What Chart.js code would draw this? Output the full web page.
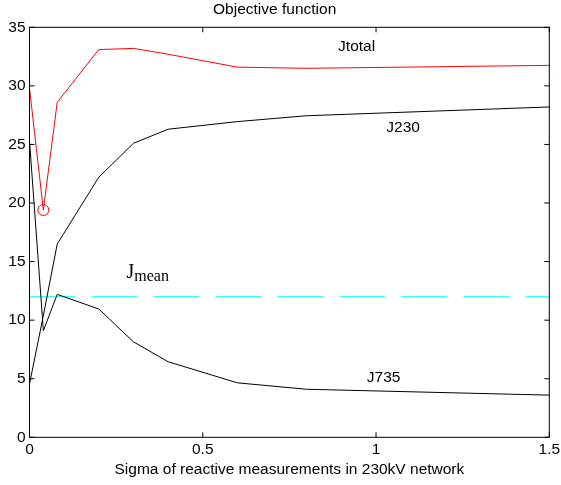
<!DOCTYPE html>
<html>
<head>
<meta charset="utf-8">
<script src="https://cdn.jsdelivr.net/npm/chart.js@4/dist/chart.umd.min.js"></script>
<style>
  body { margin: 0; background: #fff; }
  #wrap { width: 561px; height: 485px; }
</style>
</head>
<body>
<div id="wrap"><canvas id="chart" width="561" height="485"></canvas></div>
<script>
// sigma values (x) and objective function parts
const sigma = [0, 0.04, 0.08, 0.2, 0.3, 0.4, 0.6, 0.8, 1.5];
const j230 = [4.55, 10.4, 16.5, 22.2, 25.1, 26.3, 26.95, 27.45, 28.2];
const j735 = [25.3, 9.1, 12.2, 10.95, 8.15, 6.45, 4.65, 4.1, 3.6];
const jtotal = [29.8, 19.4, 28.6, 33.1, 33.2, 32.7, 31.6, 31.5, 31.75];
const jmeanX = [0, 1.5];
const jmeanY = [12, 12];
const minIndex = 1; // circled minimum of Jtotal

const xTicks = [0, 0.5, 1, 1.5];
const yTicks = [0, 5, 10, 15, 20, 25, 30, 35];

const toPoints = (xs, ys) => xs.map((x, i) => ({ x: x, y: ys[i] }));

Chart.defaults.color = "#000";
Chart.defaults.font.family = "'Liberation Sans', Arial, sans-serif";

// box, inside ticks and text labels like the matlab figure
const matlabBox = {
  id: "matlabBox",
  afterDraw(chart) {
    const { ctx, chartArea: a, scales: { x, y } } = chart;
    ctx.save();
    ctx.strokeStyle = "#000";
    ctx.lineWidth = 1;
    ctx.strokeRect(a.left, a.top, a.right - a.left, a.bottom - a.top);
    ctx.beginPath();
    xTicks.forEach((v) => {
      const px = x.getPixelForValue(v);
      ctx.moveTo(px, a.bottom); ctx.lineTo(px, a.bottom - 5);
      ctx.moveTo(px, a.top); ctx.lineTo(px, a.top + 5);
    });
    yTicks.forEach((v) => {
      const py = y.getPixelForValue(v);
      ctx.moveTo(a.left, py); ctx.lineTo(a.left + 5, py);
      ctx.moveTo(a.right, py); ctx.lineTo(a.right - 5, py);
    });
    ctx.stroke();

    // curve names
    ctx.fillStyle = "#000";
    ctx.font = "15.5px 'Liberation Sans', Arial, sans-serif";
    ctx.textAlign = "center";
    ctx.textBaseline = "middle";
    ctx.fillText("Jtotal", x.getPixelForValue(0.944), y.getPixelForValue(33.3));
    ctx.fillText("J230", x.getPixelForValue(1.078), y.getPixelForValue(26.4));
    ctx.fillText("J735", x.getPixelForValue(1.022), y.getPixelForValue(5.1));

    // J with subscript mean
    const jx = x.getPixelForValue(0.28);
    const jy = y.getPixelForValue(13.6);
    ctx.textAlign = "left";
    ctx.textBaseline = "alphabetic";
    ctx.font = "20px 'Liberation Serif', 'Times New Roman', serif";
    ctx.fillText("J", jx, jy);
    const jw = ctx.measureText("J").width;
    ctx.font = "16px 'Liberation Serif', 'Times New Roman', serif";
    ctx.fillText("mean", jx + jw, jy + 3);
    ctx.restore();
  }
};

new Chart(document.getElementById("chart"), {
  type: "line",
  data: {
    datasets: [
      {
        label: "J230",
        data: toPoints(sigma, j230),
        borderColor: "#000",
        borderWidth: 1,
        pointRadius: 0,
      },
      {
        label: "J735",
        data: toPoints(sigma, j735),
        borderColor: "#000",
        borderWidth: 1,
        pointRadius: 0,
      },
      {
        label: "Jtotal",
        data: toPoints(sigma, jtotal),
        borderColor: "#ff0000",
        borderWidth: 1,
        pointRadius: sigma.map((s, i) => (i === minIndex ? 5.5 : 0)),
        pointBorderColor: "#ff0000",
        pointBackgroundColor: "rgba(0,0,0,0)",
        pointBorderWidth: 1,
      },
      {
        label: "Jmean",
        data: toPoints(jmeanX, jmeanY),
        borderColor: "#00ffff",
        borderWidth: 1,
        borderDash: [46, 16],
        pointRadius: 0,
      },
    ],
  },
  options: {
    responsive: false,
    animation: false,
    devicePixelRatio: 1,
    layout: { padding: { left: 0, right: 11.7, top: 0, bottom: 0 } },
    plugins: {
      legend: { display: false },
      tooltip: { enabled: false },
      title: {
        display: true,
        text: "Objective function",
        font: { size: 15.5, weight: "normal" },
        padding: { top: 0, bottom: 8.7 },
      },
    },
    scales: {
      x: {
        type: "linear",
        min: 0,
        max: 1.5,
        afterBuildTicks: (s) => { s.ticks = xTicks.map((v) => ({ value: v })); },
        ticks: { font: { size: 15.5, lineHeight: 1.6 }, padding: 0.5, maxRotation: 0, callback: (v) => String(v) },
        grid: { display: false, drawTicks: false },
        border: { display: false },
        title: {
          display: true,
          text: "Sigma of reactive measurements in 230kV network",
          font: { size: 15.5 },
          padding: { top: 0, bottom: 6 },
        },
        afterFit: (s) => { s.height = 47.7; },
      },
      y: {
        min: 0,
        max: 35,
        afterBuildTicks: (s) => { s.ticks = yTicks.map((v) => ({ value: v })); },
        ticks: { font: { size: 15.5 }, padding: 4 },
        grid: { display: false, drawTicks: false },
        border: { display: false },
        afterFit: (s) => { s.width = 29.5; },
      },
    },
  },
  plugins: [matlabBox],
});
</script>
</body>
</html>
